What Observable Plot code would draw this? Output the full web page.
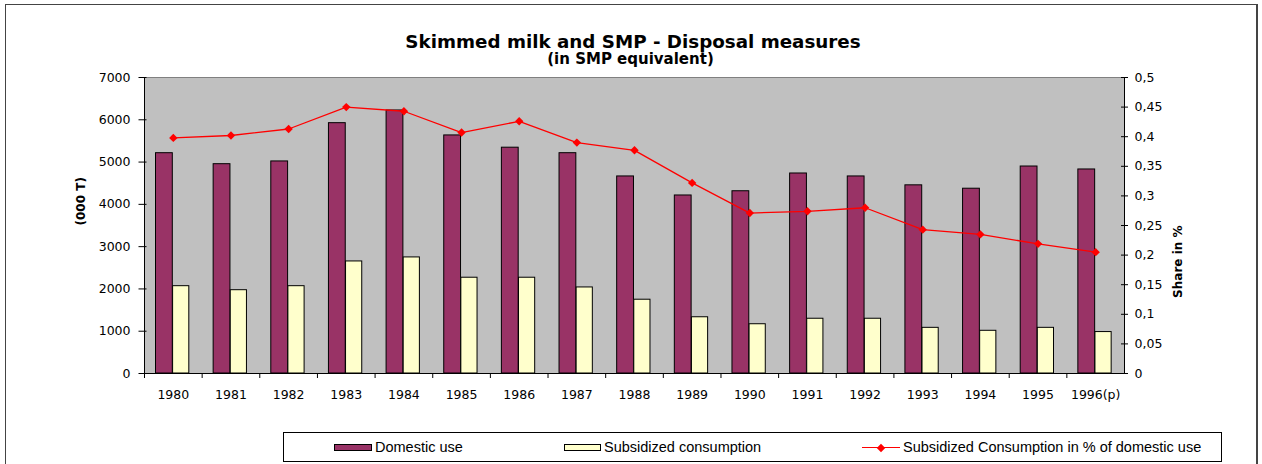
<!DOCTYPE html>
<html>
<head>
<meta charset="utf-8">
<script src="https://cdn.jsdelivr.net/npm/d3@7"></script>
<script src="https://cdn.jsdelivr.net/npm/@observablehq/plot@0.6"></script>
<style>
  html, body { margin: 0; padding: 0; background: #fff; }
  #wrap { position: relative; width: 1262px; height: 464px; overflow: hidden; font-family: "DejaVu Sans", sans-serif; }
  #outer { position: absolute; left: 5px; top: 4px; width: 1253px; height: 480px; border: 1px solid #444; border-right: 2px solid #444; box-sizing: border-box; }
  #chart { position: absolute; left: 0; top: 0; }
  .title { position: absolute; transform: translateX(-50%); white-space: nowrap; font-weight: bold; color: #000; line-height: 1; }
  #legend { position: absolute; left: 283px; top: 432px; width: 939px; height: 30px; border: 1px solid #000; box-sizing: border-box; background: #fff; }
  .lg { position: absolute; font-family: "Liberation Sans", Arial, sans-serif; font-size: 14.5px; line-height: 1; white-space: nowrap; color: #000; }
  .sw { position: absolute; box-sizing: border-box; border: 1px solid #000; }
</style>
</head>
<body>
<div id="wrap">
  <div id="outer"></div>
  <div id="chart"></div>
  <div class="title" style="left:633px; top:32.8px; font-size:18.3px;">Skimmed milk and SMP - Disposal measures</div>
  <div class="title" style="left:630.5px; top:51.6px; font-size:15px;">(in SMP equivalent)</div>
  <div id="legend"></div>
</div>
<script>
// ---- data ----
const years = ["1980","1981","1982","1983","1984","1985","1986","1987","1988","1989","1990","1991","1992","1993","1994","1995","1996(p)"];
const domesticUse = [5210,4950,5015,5920,6220,5630,5340,5210,4660,4210,4310,4730,4660,4450,4370,4895,4825];
const subsidizedConsumption = [2065,1970,2065,2650,2745,2265,2265,2035,1745,1330,1165,1295,1295,1080,1010,1080,980];
const sharePct = [0.398,0.402,0.413,0.450,0.443,0.407,0.426,0.390,0.377,0.322,0.271,0.274,0.280,0.243,0.235,0.219,0.205];
const leftTicks = [0,1000,2000,3000,4000,5000,6000,7000];
const rightTicks = [0,0.05,0.1,0.15,0.2,0.25,0.3,0.35,0.4,0.45,0.5];
const seriesNames = ["Domestic use","Subsidized consumption","Subsidized Consumption in % of domestic use"];
const colors = { domestic: "#993366", subsidized: "#FFFFCC", share: "#FF0000", plotBg: "#C0C0C0" };

// ---- layout ----
const W = 1262, H = 423;
const mL = 144, mR = 138, mT = 77, mB = 50;
const yMax = 7000, shareMax = 0.5;
const k = yMax / shareMax; // share -> left axis units
const bw = (W - mL - mR) / years.length;

const rows = years.map((y, i) => ({ year: y, domestic: domesticUse[i], subsidized: subsidizedConsumption[i], share: sharePct[i] }));
const fmtShare = d => { const v = +(d / k).toFixed(2); return String(v).replace(".", ","); };

const chart = Plot.plot({
  width: W, height: H,
  marginLeft: mL, marginRight: mR, marginTop: mT, marginBottom: mB,
  style: { fontFamily: "DejaVu Sans, sans-serif", fontSize: "12.5px", background: "transparent", color: "#000" },
  x: { type: "band", domain: years, padding: 0, round: false },
  y: { domain: [0, yMax] },
  marks: [
    Plot.frame({ fill: colors.plotBg, stroke: "#808080" }),
    Plot.barY(rows, { x: "year", y: "domestic", fill: colors.domestic, stroke: "#000", strokeWidth: 1, insetLeft: 11.5, insetRight: bw - 28.3 }),
    Plot.barY(rows, { x: "year", y: "subsidized", fill: colors.subsidized, stroke: "#000", strokeWidth: 1, insetLeft: 28.6, insetRight: bw - 44.8 }),
    Plot.line(rows, { x: "year", y: d => d.share * k, stroke: colors.share, strokeWidth: 1.3 }),
    Plot.dot(rows, { x: "year", y: d => d.share * k, symbol: "diamond2", r: 3.8, fill: colors.share, stroke: "none" }),
    Plot.ruleY([0], { stroke: "#000" }),
    Plot.frame({ anchor: "left", stroke: "#000" }),
    Plot.frame({ anchor: "right", stroke: "#000" }),
    // left axis
    Plot.axisY({ anchor: "left", ticks: leftTicks, tickSize: 0, tickPadding: 14, tickFormat: d => String(d), label: null }),
    Plot.axisY({ anchor: "left", ticks: leftTicks, tickSize: 8, dx: 2.5, tickFormat: () => "", label: null, stroke: "#000" }),
    // right axis
    Plot.axisY({ anchor: "right", ticks: rightTicks.map(s => s * k), tickSize: 0, tickPadding: 10, tickFormat: fmtShare, label: null }),
    Plot.axisY({ anchor: "right", ticks: rightTicks.map(s => s * k), tickSize: 7, dx: -4, tickFormat: () => "", label: null, stroke: "#000" }),
    // x axis
    Plot.axisX({ tickSize: 0, tickPadding: 17, label: null }),
    Plot.axisX({ tickSize: 5, dx: -bw / 2, tickFormat: () => "", label: null, stroke: "#000" }),
    // axis titles
    Plot.text(["(000 T)"], { text: d => d, frameAnchor: "left", dx: -63, rotate: -90, fontWeight: "bold", fontSize: 12 }),
    Plot.text(["Share in %"], { text: d => d, frameAnchor: "right", dx: 54, rotate: -90, fontWeight: "bold", fontSize: 12 })
  ]
});
document.getElementById("chart").appendChild(chart);

// ---- legend (HTML) ----
const lg = document.getElementById("legend");
const ox = 283, oy = 432;
function add(html) { lg.insertAdjacentHTML("beforeend", html); }
add(`<div class="sw" style="left:${333-ox}px; top:${443-oy}px; width:38px; height:7px; background:${colors.domestic};"></div>`);
add(`<div class="lg" style="left:${374-ox}px; top:${439.4-oy}px;">${seriesNames[0]}</div>`);
add(`<div class="sw" style="left:${563-ox}px; top:${443-oy}px; width:37px; height:7px; background:${colors.subsidized};"></div>`);
add(`<div class="lg" style="left:${603-ox}px; top:${439.4-oy}px;">${seriesNames[1]}</div>`);
add(`<div style="position:absolute; left:${861-ox}px; top:${446-oy}px; width:38px; height:1.3px; background:${colors.share};"></div>`);
add(`<div style="position:absolute; left:${877-ox}px; top:${443.5-oy}px; width:6px; height:6px; background:${colors.share}; transform:rotate(45deg);"></div>`);
add(`<div class="lg" style="left:${902-ox}px; top:${439.4-oy}px;">${seriesNames[2]}</div>`);
</script>
</body>
</html>
